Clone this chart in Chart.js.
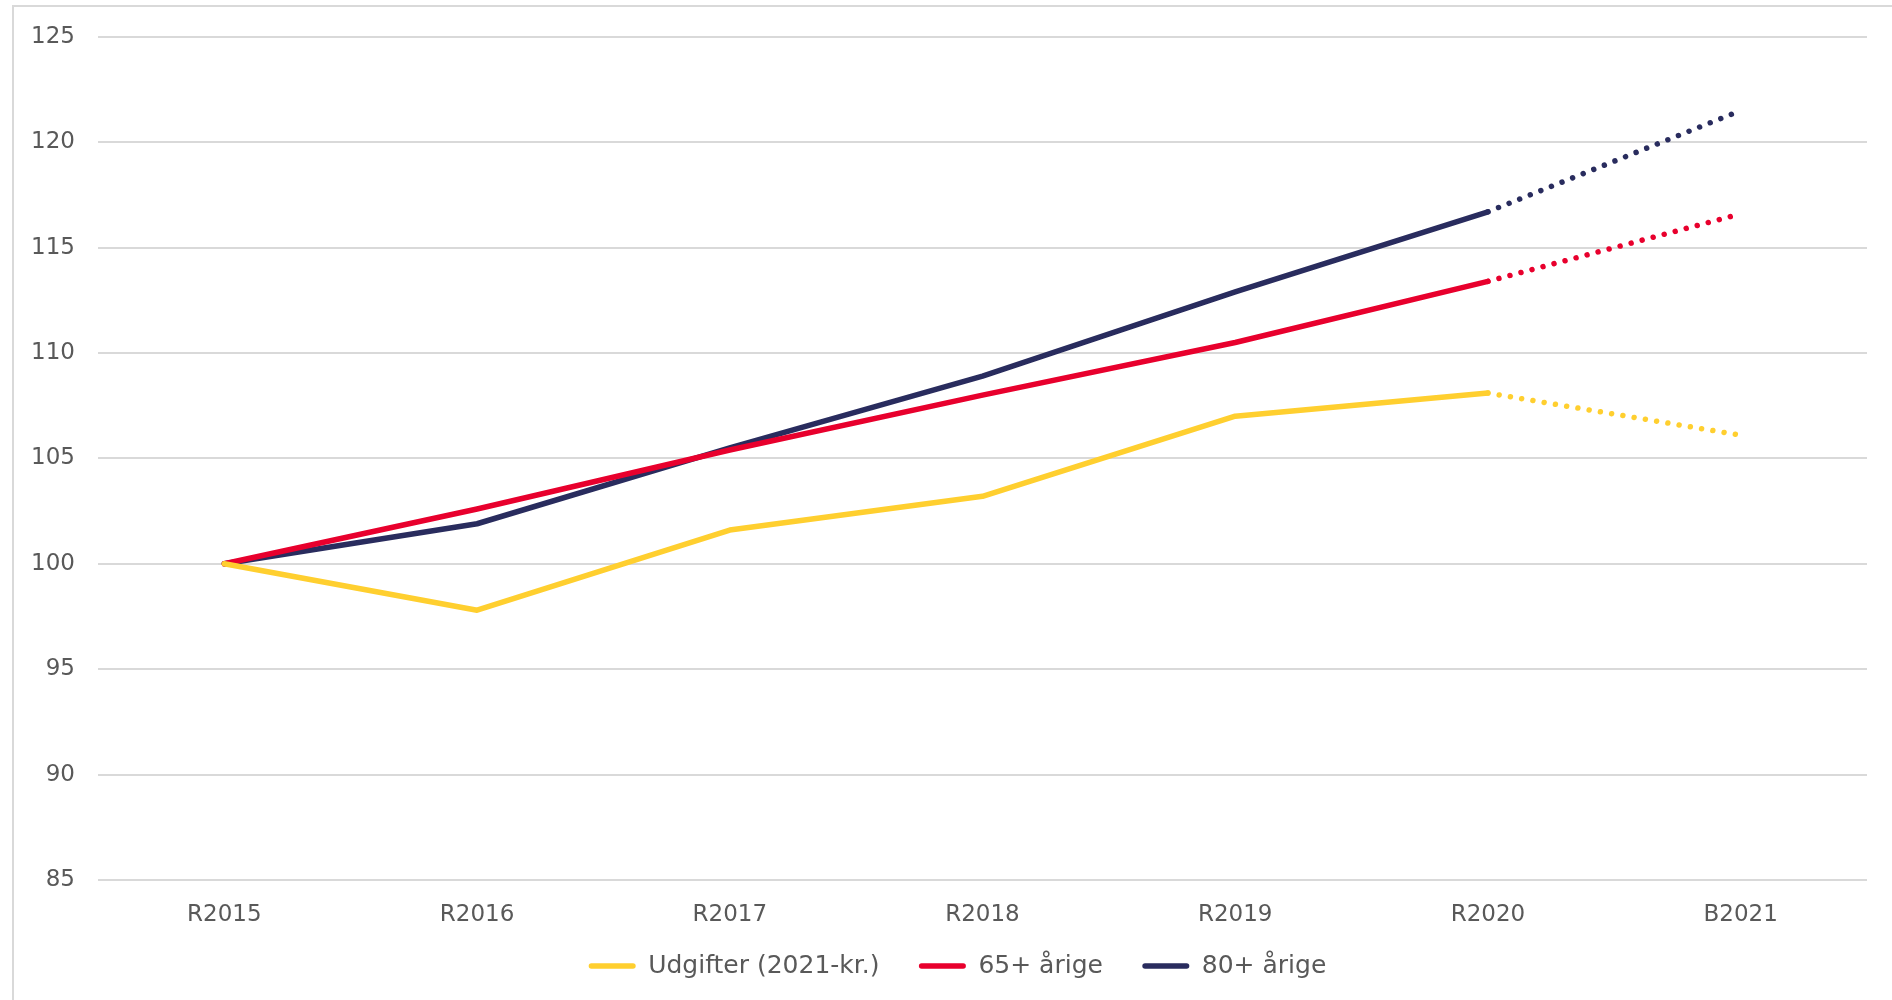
<!DOCTYPE html>
<html lang="da">
<head>
    <meta charset="UTF-8"/>
    <title>Udgifter og ældre</title>
    <script src="https://cdn.jsdelivr.net/npm/chart.js"></script>
    <style>
        html, body {
            margin: 0;
            padding: 0;
            background-color: #fff;
            width: 1892px;
            height: 1000px;
            overflow: hidden;
        }

        .chart-wrapper {
            position: relative;
            width: 1892px;
            height: 1000px;
        }

        .frame {
            position: absolute;
            left: 12px;
            top: 5px;
            right: 0;
            bottom: 0;
            border-top: 2px solid #d9d9d9;
            border-left: 2px solid #d9d9d9;
            pointer-events: none;
        }
    </style>
</head>
<body>
<div class="chart-wrapper">
    <canvas id="indexChart"></canvas>
    <div class="frame"></div>
</div>

<script>
    const categories = ['R2015', 'R2016', 'R2017', 'R2018', 'R2019', 'R2020', 'B2021'];
    const udgifter = [100, 97.8, 101.6, 103.2, 107.0, 108.1, 106.1];
    const plus65 = [100, 102.6, 105.4, 108.0, 110.5, 113.4, 116.6];
    const plus80 = [100, 101.9, 105.5, 108.9, 112.9, 116.7, 121.5];
    const yTicks = [85, 90, 95, 100, 105, 110, 115, 120, 125];

    const seriesNames = ['Udgifter (2021-kr.)', '65+ årige', '80+ årige'];
    const seriesColors = ['#ffcf2f', '#e8002d', '#292c5e'];

    const textColor = '#595959';
    const fontFamily = "'DejaVu Sans', Verdana, sans-serif";

    // last step (R2020 -> B2021) is a budget figure, drawn dotted
    const lastSegment = categories.length - 2;

    function makeDataset(label, data, color) {
        return {
            label: label,
            data: data,
            borderColor: color,
            backgroundColor: color,
            borderWidth: 5.5,
            borderCapStyle: 'round',
            borderJoinStyle: 'round',
            pointRadius: 0,
            pointHoverRadius: 0,
            tension: 0,
            segment: {
                borderDash: ctx => ctx.p0DataIndex === lastSegment ? [0.001, 11.4] : undefined
            }
        };
    }

    // legend sits a bit right of the canvas centre in the original
    const legendShift = {
        id: 'legendShift',
        afterLayout(chart) {
            chart.legend.left += 24;
            chart.legend.right += 24;
        }
    };

    const ctx = document.getElementById('indexChart').getContext('2d');

    const indexChart = new Chart(ctx, {
        type: 'line',
        data: {
            labels: categories,
            datasets: [
                makeDataset(seriesNames[0], udgifter, seriesColors[0]),
                makeDataset(seriesNames[1], plus65, seriesColors[1]),
                makeDataset(seriesNames[2], plus80, seriesColors[2])
            ]
        },
        options: {
            responsive: true,
            maintainAspectRatio: false,
            animation: false,
            layout: {
                padding: { left: 0, right: 25, top: 36, bottom: 11.5 }
            },
            scales: {
                x: {
                    offset: true,
                    grid: { display: false },
                    border: { display: false },
                    ticks: {
                        color: textColor,
                        font: { family: fontFamily, size: 23 },
                        padding: 13,
                        maxRotation: 0
                    },
                    afterFit: axis => { axis.height = 50; }
                },
                y: {
                    min: 85,
                    max: 125,
                    afterBuildTicks: axis => { axis.ticks = yTicks.map(v => ({ value: v })); },
                    grid: {
                        color: '#d9d9d9',
                        lineWidth: 2,
                        drawTicks: false
                    },
                    border: { display: false },
                    ticks: {
                        color: textColor,
                        font: { family: fontFamily, size: 23 },
                        padding: 23
                    },
                    afterFit: axis => { axis.width = 98; }
                }
            },
            plugins: {
                legend: {
                    display: true,
                    position: 'bottom',
                    labels: {
                        color: textColor,
                        font: { family: fontFamily, size: 25 },
                        boxWidth: 47,
                        boxHeight: 5.5,
                        padding: 23.5,
                        useBorderRadius: true,
                        generateLabels: chart => Chart.defaults.plugins.legend.labels.generateLabels(chart).map((item, i, all) => ({
                            ...item,
                            // a little extra room after each entry but the last
                            text: i < all.length - 1 ? item.text + '\u00a0\u00a0' : item.text,
                            fillStyle: item.strokeStyle,
                            lineWidth: 0,
                            lineDash: [],
                            borderRadius: 2.75
                        }))
                    }
                },
                tooltip: { enabled: false }
            }
        },
        plugins: [legendShift]
    });
</script>
</body>
</html>
